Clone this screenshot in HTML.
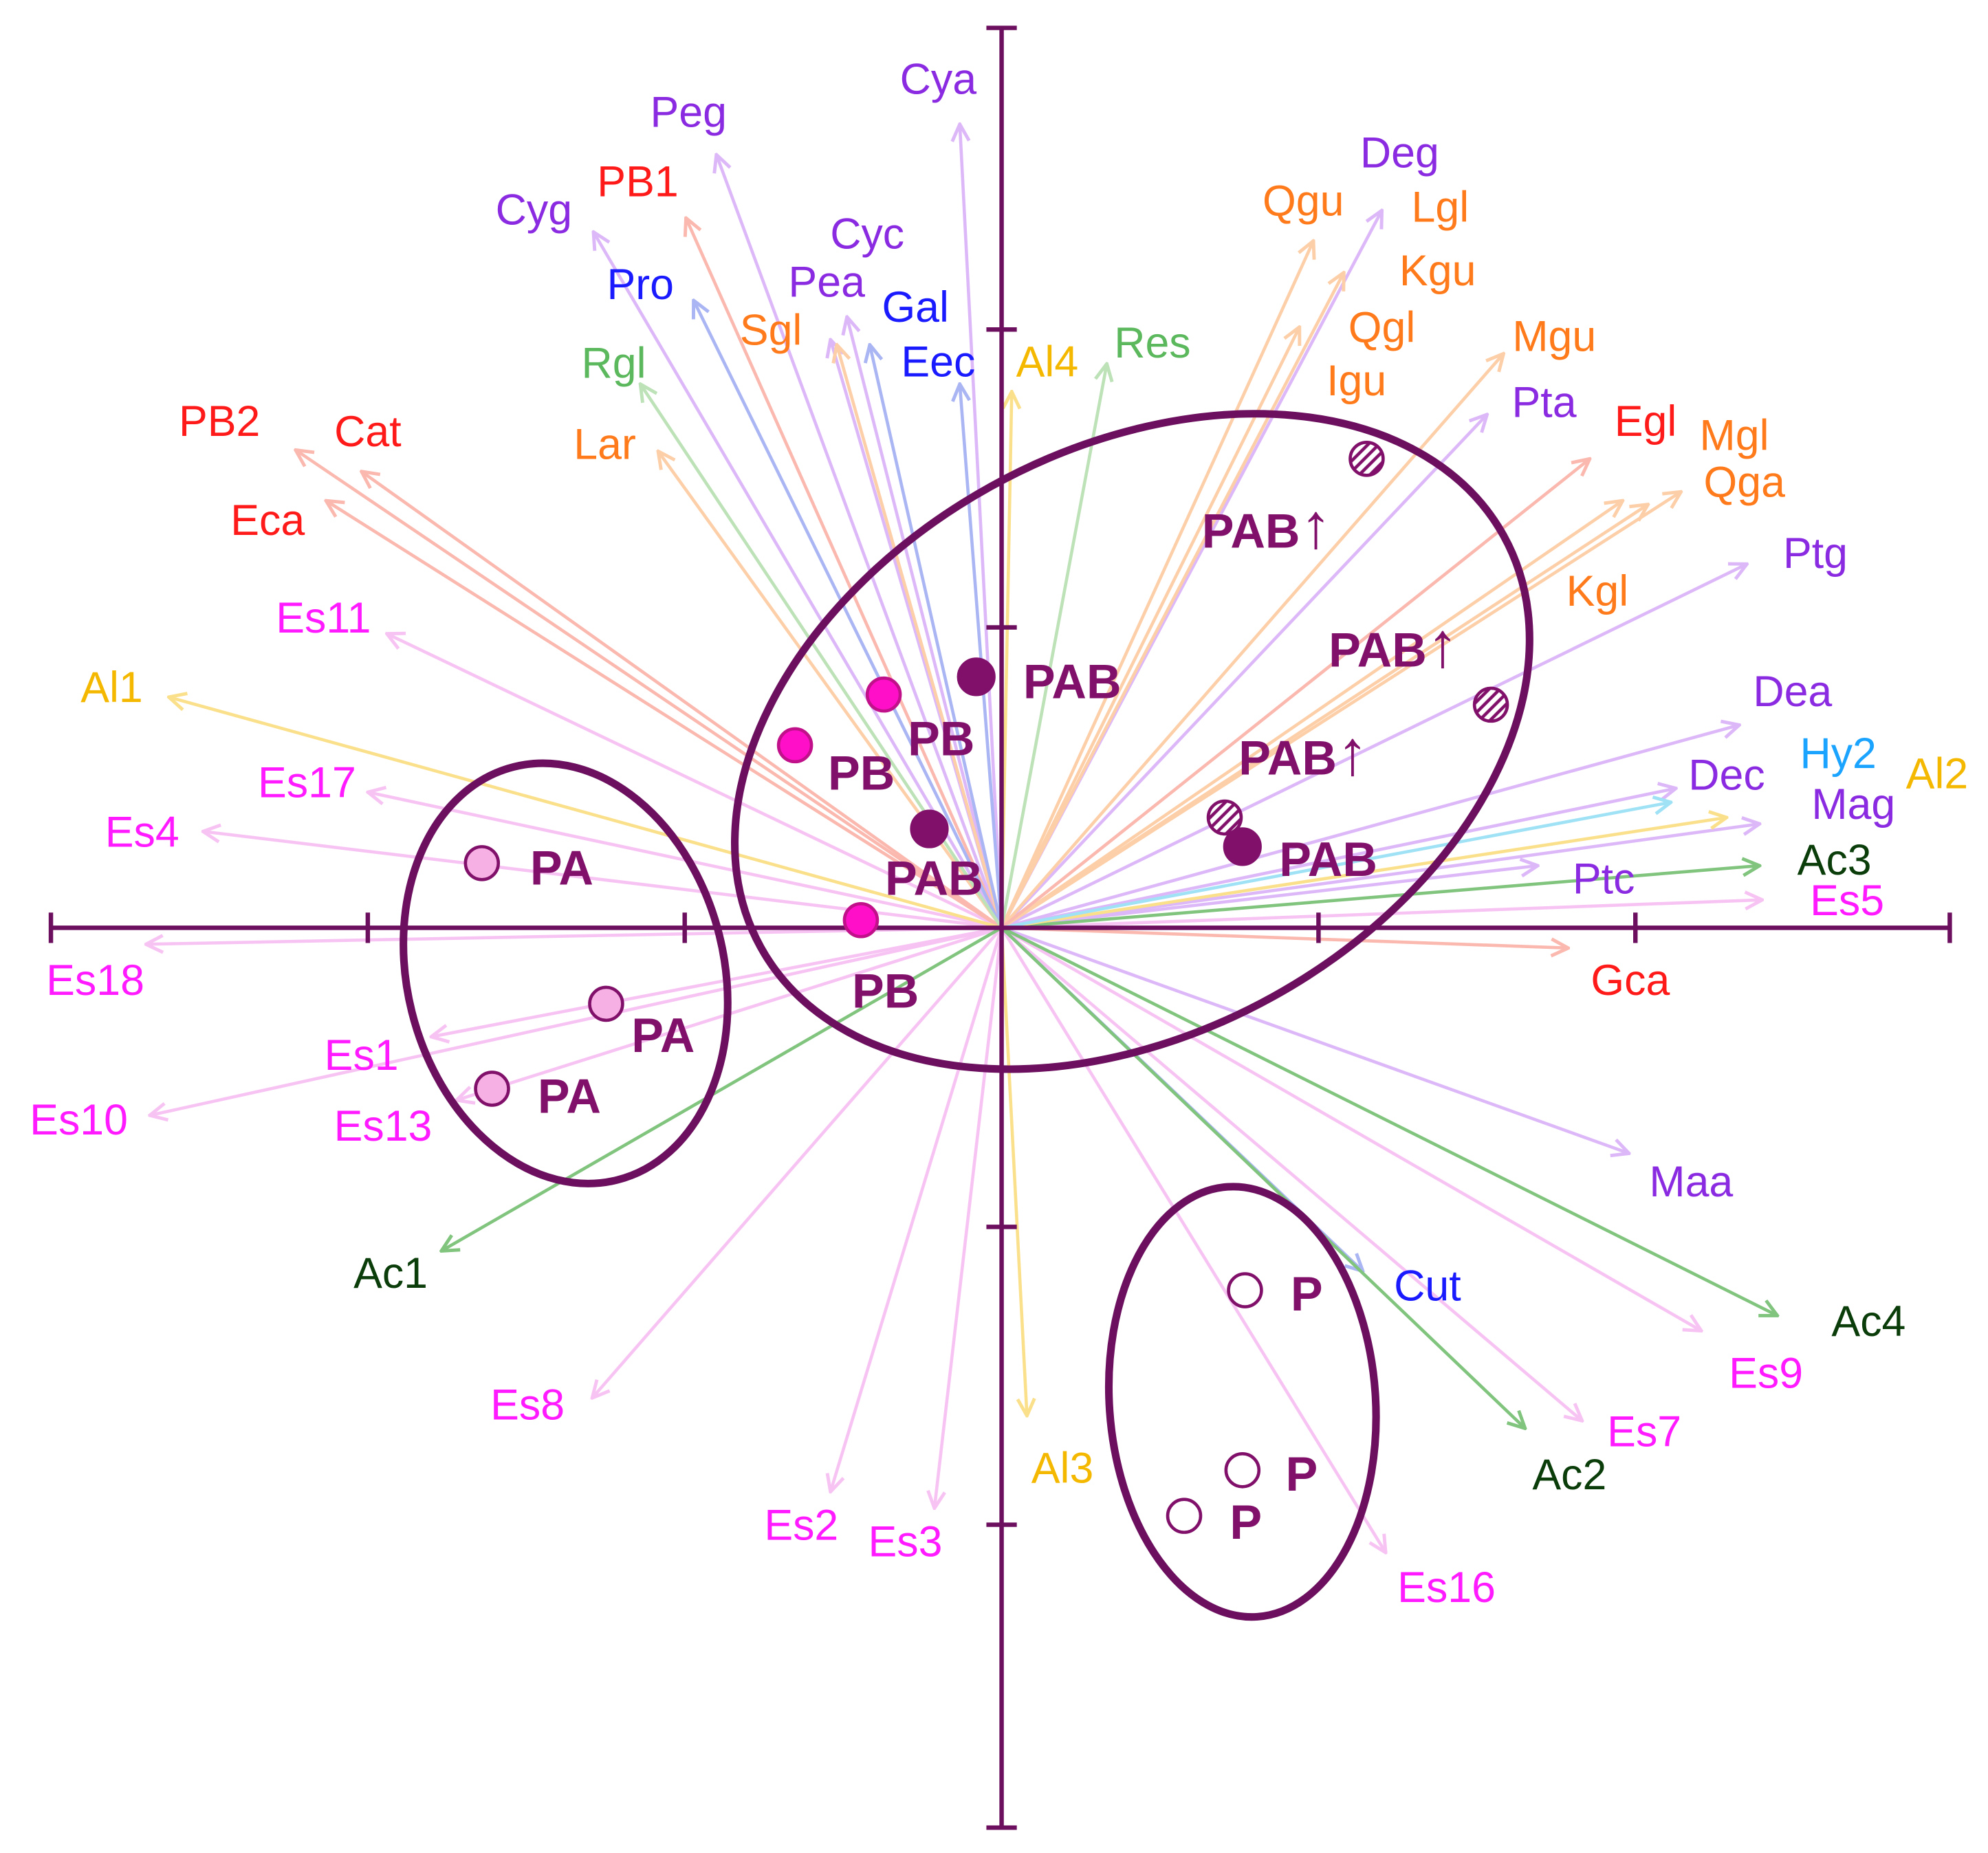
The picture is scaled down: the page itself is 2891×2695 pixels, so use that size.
<!DOCTYPE html>
<html><head><meta charset="utf-8"><style>
html,body{margin:0;padding:0;background:#fff}
svg{display:block}
text{font-family:"Liberation Sans",Arial,sans-serif;font-size:34px}
.b{font-weight:bold;fill:#80106a;font-size:38px}
.ar{font-size:50px;font-weight:bold}
</style></head><body>
<svg width="2891" height="2695" viewBox="0 0 1568 1462" xmlns="http://www.w3.org/2000/svg">
<defs>
<marker id="pk" viewBox="0 0 12 12" refX="11" refY="6" markerWidth="16" markerHeight="16" markerUnits="userSpaceOnUse" orient="auto"><path d="M1,1 L11,6 L1,11" fill="none" stroke="#f7c3f3" stroke-width="2"/></marker>
<marker id="pu" viewBox="0 0 12 12" refX="11" refY="6" markerWidth="16" markerHeight="16" markerUnits="userSpaceOnUse" orient="auto"><path d="M1,1 L11,6 L1,11" fill="none" stroke="#ddb8f8" stroke-width="2"/></marker>
<marker id="or" viewBox="0 0 12 12" refX="11" refY="6" markerWidth="16" markerHeight="16" markerUnits="userSpaceOnUse" orient="auto"><path d="M1,1 L11,6 L1,11" fill="none" stroke="#fdcfa8" stroke-width="2"/></marker>
<marker id="rd" viewBox="0 0 12 12" refX="11" refY="6" markerWidth="16" markerHeight="16" markerUnits="userSpaceOnUse" orient="auto"><path d="M1,1 L11,6 L1,11" fill="none" stroke="#fab8ae" stroke-width="2"/></marker>
<marker id="bl" viewBox="0 0 12 12" refX="11" refY="6" markerWidth="16" markerHeight="16" markerUnits="userSpaceOnUse" orient="auto"><path d="M1,1 L11,6 L1,11" fill="none" stroke="#aab5f3" stroke-width="2"/></marker>
<marker id="lg" viewBox="0 0 12 12" refX="11" refY="6" markerWidth="16" markerHeight="16" markerUnits="userSpaceOnUse" orient="auto"><path d="M1,1 L11,6 L1,11" fill="none" stroke="#bde2b8" stroke-width="2"/></marker>
<marker id="gr" viewBox="0 0 12 12" refX="11" refY="6" markerWidth="16" markerHeight="16" markerUnits="userSpaceOnUse" orient="auto"><path d="M1,1 L11,6 L1,11" fill="none" stroke="#80c47e" stroke-width="2"/></marker>
<marker id="ye" viewBox="0 0 12 12" refX="11" refY="6" markerWidth="16" markerHeight="16" markerUnits="userSpaceOnUse" orient="auto"><path d="M1,1 L11,6 L1,11" fill="none" stroke="#fbe08c" stroke-width="2"/></marker>
<marker id="cy" viewBox="0 0 12 12" refX="11" refY="6" markerWidth="16" markerHeight="16" markerUnits="userSpaceOnUse" orient="auto"><path d="M1,1 L11,6 L1,11" fill="none" stroke="#9fe2f6" stroke-width="2"/></marker>
<pattern id="hatch" width="6" height="6" patternUnits="userSpaceOnUse" patternTransform="rotate(-45)"><rect width="6" height="6" fill="#fff"/><line x1="0" y1="3" x2="6" y2="3" stroke="#80106a" stroke-width="2.5"/></pattern>
</defs>

<g stroke-width="2.5" fill="none">
<g stroke="#f7c3f3" marker-end="url(#pk)">
<line x1="790" y1="732" x2="305" y2="500"/>
<line x1="790" y1="732" x2="290" y2="625"/>
<line x1="790" y1="732" x2="160" y2="656"/>
<line x1="790" y1="732" x2="115" y2="745"/>
<line x1="790" y1="732" x2="340" y2="818"/>
<line x1="790" y1="732" x2="118" y2="880"/>
<line x1="790" y1="732" x2="360" y2="868"/>
<line x1="790" y1="732" x2="467" y2="1103"/>
<line x1="790" y1="732" x2="655" y2="1177"/>
<line x1="790" y1="732" x2="737" y2="1190"/>
<line x1="790" y1="732" x2="1093" y2="1225"/>
<line x1="790" y1="732" x2="1248" y2="1121"/>
<line x1="790" y1="732" x2="1342" y2="1050"/>
<line x1="790" y1="732" x2="1390" y2="710"/>
</g>
<g stroke="#ddb8f8" marker-end="url(#pu)">
<line x1="790" y1="732" x2="757" y2="98"/>
<line x1="790" y1="732" x2="565" y2="122"/>
<line x1="790" y1="732" x2="468" y2="183"/>
<line x1="790" y1="732" x2="668" y2="250"/>
<line x1="790" y1="732" x2="655" y2="268"/>
<line x1="790" y1="732" x2="1285" y2="910"/>
<line x1="790" y1="732" x2="1213" y2="683"/>
<line x1="790" y1="732" x2="1388" y2="650"/>
<line x1="790" y1="732" x2="1322" y2="622"/>
<line x1="790" y1="732" x2="1372" y2="572"/>
<line x1="790" y1="732" x2="1378" y2="445"/>
<line x1="790" y1="732" x2="1173" y2="327"/>
<line x1="790" y1="732" x2="1090" y2="166"/>
</g>
<g stroke="#fdcfa8" marker-end="url(#or)">
<line x1="790" y1="732" x2="660" y2="272"/>
<line x1="790" y1="732" x2="519" y2="356"/>
<line x1="790" y1="732" x2="1300" y2="398"/>
<line x1="790" y1="732" x2="1326" y2="388"/>
<line x1="790" y1="732" x2="1280" y2="395"/>
<line x1="790" y1="732" x2="1186" y2="279"/>
<line x1="790" y1="732" x2="1036" y2="190"/>
<line x1="790" y1="732" x2="1060" y2="215"/>
<line x1="790" y1="732" x2="1025" y2="258"/>
</g>
<g stroke="#fab8ae" marker-end="url(#rd)">
<line x1="790" y1="732" x2="541" y2="172"/>
<line x1="790" y1="732" x2="233" y2="355"/>
<line x1="790" y1="732" x2="285" y2="372"/>
<line x1="790" y1="732" x2="257" y2="395"/>
<line x1="790" y1="732" x2="1237" y2="748"/>
<line x1="790" y1="732" x2="1254" y2="362"/>
</g>
<g stroke="#aab5f3" marker-end="url(#bl)">
<line x1="790" y1="732" x2="547" y2="237"/>
<line x1="790" y1="732" x2="686" y2="272"/>
<line x1="790" y1="732" x2="757" y2="303"/>
<line x1="790" y1="732" x2="1075" y2="1003"/>
</g>
<g stroke="#bde2b8" marker-end="url(#lg)">
<line x1="790" y1="732" x2="873" y2="287"/>
<line x1="790" y1="732" x2="505" y2="303"/>
</g>
<g stroke="#80c47e" marker-end="url(#gr)">
<line x1="790" y1="732" x2="348" y2="987"/>
<line x1="790" y1="732" x2="1203" y2="1127"/>
<line x1="790" y1="732" x2="1402" y2="1038"/>
<line x1="790" y1="732" x2="1388" y2="683"/>
</g>
<g stroke="#fbe08c" marker-end="url(#ye)">
<line x1="790" y1="732" x2="798" y2="309"/>
<line x1="790" y1="732" x2="133" y2="550"/>
<line x1="790" y1="732" x2="810" y2="1117"/>
<line x1="790" y1="732" x2="1362" y2="645"/>
</g>
<g stroke="#9fe2f6" marker-end="url(#cy)">
<line x1="790" y1="732" x2="1318" y2="633"/>
</g>
</g>

<g stroke="#6b0f5e" stroke-width="3.5">
<line x1="40" y1="732" x2="1538" y2="732"/>
<line x1="790" y1="22" x2="790" y2="1442"/>
<line x1="40" y1="720" x2="40" y2="744"/><line x1="290" y1="720" x2="290" y2="744"/><line x1="540" y1="720" x2="540" y2="744"/><line x1="1040" y1="720" x2="1040" y2="744"/><line x1="1290" y1="720" x2="1290" y2="744"/><line x1="1538" y1="720" x2="1538" y2="744"/>
<line x1="778" y1="22" x2="802" y2="22"/><line x1="778" y1="260" x2="802" y2="260"/><line x1="778" y1="495" x2="802" y2="495"/><line x1="778" y1="968" x2="802" y2="968"/><line x1="778" y1="1203" x2="802" y2="1203"/><line x1="778" y1="1442" x2="802" y2="1442"/>
</g>

<g fill="none" stroke="#6b0f5e" stroke-width="6">
<ellipse cx="893" cy="585" rx="335" ry="230" transform="rotate(-29 893 585)"/>
<ellipse cx="446" cy="768" rx="125" ry="168" transform="rotate(-14 446 768)"/>
<ellipse cx="980" cy="1106" rx="105" ry="170" transform="rotate(-4 980 1106)"/>
</g>

<g stroke="#80106a" stroke-width="2.5">
<circle cx="380" cy="681" r="13" fill="#f7b0e3"/><circle cx="478" cy="792" r="13" fill="#f7b0e3"/><circle cx="388" cy="859" r="13" fill="#f7b0e3"/>
<circle cx="697" cy="548" r="13" fill="#ff10c8" stroke="#c0108a"/><circle cx="627" cy="588" r="13" fill="#ff10c8" stroke="#c0108a"/><circle cx="679" cy="726" r="13" fill="#ff10c8" stroke="#c0108a"/>
<circle cx="770" cy="534" r="14" fill="#80106a"/><circle cx="733" cy="654" r="14" fill="#80106a"/><circle cx="980" cy="668" r="14" fill="#80106a"/>
<circle cx="1078" cy="362" r="13" fill="url(#hatch)"/><circle cx="1176" cy="556" r="13" fill="url(#hatch)"/><circle cx="966" cy="645" r="13" fill="url(#hatch)"/>
<circle cx="982" cy="1018" r="13" fill="#fff"/><circle cx="980" cy="1160" r="13" fill="#fff"/><circle cx="934" cy="1196" r="13" fill="#fff"/>
</g>

<g class="b">
<text class="b" x="418" y="698">PA</text><text class="b" x="498" y="830">PA</text><text class="b" x="424" y="878">PA</text>
<text class="b" x="716" y="596">PB</text><text class="b" x="653" y="623">PB</text><text class="b" x="672" y="795">PB</text>
<text class="b" x="807" y="551">PAB</text><text class="b" x="698" y="706">PAB</text><text class="b" x="1009" y="691">PAB</text>
<text class="b" x="948" y="432">PAB<tspan class="ar">↑</tspan></text><text class="b" x="1048" y="526">PAB<tspan class="ar">↑</tspan></text><text class="b" x="977" y="611">PAB<tspan class="ar">↑</tspan></text>
<text class="b" x="1018" y="1034">P</text><text class="b" x="1014" y="1176">P</text><text class="b" x="970" y="1214">P</text>
</g>

<g text-anchor="middle">
<g fill="#8a2be2">
<text x="740" y="74">Cya</text><text x="543" y="100">Peg</text><text x="421" y="177">Cyg</text><text x="684" y="196">Cyc</text><text x="652" y="234">Pea</text>
<text x="1334" y="944">Maa</text><text x="1265" y="705">Ptc</text><text x="1462" y="646">Mag</text><text x="1362" y="623">Dec</text><text x="1414" y="557">Dea</text><text x="1432" y="448">Ptg</text><text x="1218" y="329">Pta</text><text x="1104" y="132">Deg</text>
</g>
<g fill="#ff1a1a">
<text x="503" y="155">PB1</text><text x="173" y="344">PB2</text><text x="290" y="352">Cat</text><text x="211" y="422">Eca</text><text x="1286" y="785">Gca</text><text x="1298" y="344">Egl</text>
</g>
<g fill="#ff7a1a">
<text x="608" y="272">Sgl</text><text x="477" y="362">Lar</text><text x="1260" y="478">Kgl</text><text x="1376" y="392">Qga</text><text x="1368" y="355">Mgl</text><text x="1226" y="277">Mgu</text><text x="1070" y="312">Igu</text><text x="1028" y="170">Qgu</text><text x="1136" y="175">Lgl</text><text x="1134" y="225">Kgu</text><text x="1090" y="270">Qgl</text>
</g>
<g fill="#1a1aff">
<text x="505" y="236">Pro</text><text x="722" y="254">Gal</text><text x="740" y="297">Eec</text><text x="1126" y="1026">Cut</text>
</g>
<g fill="#f5b800">
<text x="826" y="297">Al4</text><text x="88" y="554">Al1</text><text x="838" y="1170">Al3</text><text x="1528" y="622">Al2</text>
</g>
<g fill="#5cb85c"><text x="909" y="282">Res</text><text x="484" y="298">Rgl</text></g>
<g fill="#0a3d0a"><text x="308" y="1016">Ac1</text><text x="1238" y="1175">Ac2</text><text x="1474" y="1054">Ac4</text><text x="1447" y="690">Ac3</text></g>
<g fill="#1aa3ff"><text x="1450" y="606">Hy2</text></g>
<g fill="#ff1aff">
<text x="255" y="499">Es11</text><text x="242" y="629">Es17</text><text x="112" y="668">Es4</text><text x="75" y="785">Es18</text><text x="285" y="844">Es1</text><text x="62" y="895">Es10</text><text x="302" y="900">Es13</text><text x="416" y="1120">Es8</text><text x="632" y="1215">Es2</text><text x="714" y="1228">Es3</text><text x="1141" y="1264">Es16</text><text x="1297" y="1141">Es7</text><text x="1393" y="1095">Es9</text><text x="1457" y="722">Es5</text>
</g>
</g>
</svg>
</body></html>
